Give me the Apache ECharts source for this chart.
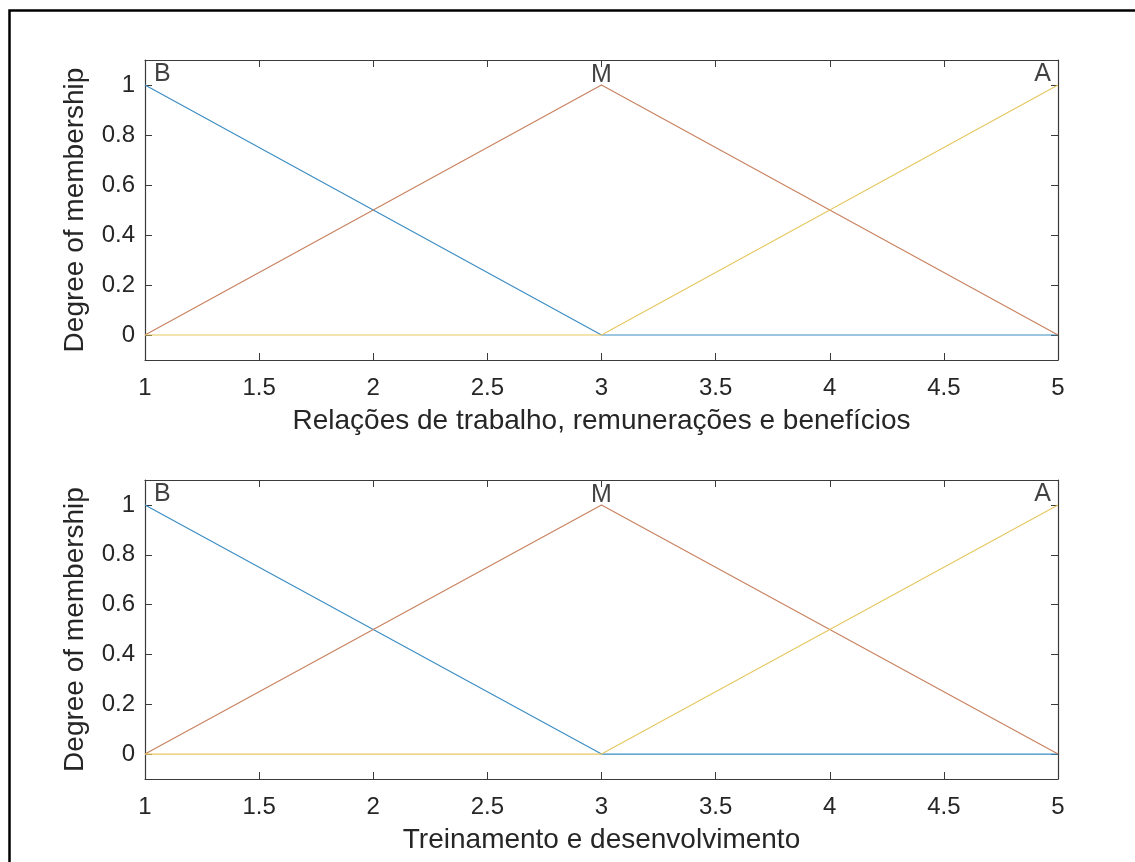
<!DOCTYPE html>
<html>
<head>
<meta charset="utf-8">
<script src="https://cdn.jsdelivr.net/npm/echarts@6/dist/echarts.min.js"></script>
<style>
html,body{margin:0;padding:0;background:#fff;}
#chart{width:1135px;height:862px;}
</style>
</head>
<body>
<div id="chart"></div>
<script>
// ---- data ----
const xPoints = [1, 3, 5];
const xTicks = ['1', '1.5', '2', '2.5', '3', '3.5', '4', '4.5', '5'];
const yTicks = [0, 0.2, 0.4, 0.6, 0.8, 1];
const mfNames = ['B', 'M', 'A'];
const mfPeaks = [1, 3, 5];

// Plot 1: Relações de trabalho, remunerações e benefícios
const relB = [1, 0, 0];
const relM = [0, 1, 0];
const relA = [0, 0, 1];
// Plot 2: Treinamento e desenvolvimento
const treB = [1, 0, 0];
const treM = [0, 1, 0];
const treA = [0, 0, 1];

const plotTitles = ['Relações de trabalho, remunerações e benefícios', 'Treinamento e desenvolvimento'];
const yTitle = 'Degree of membership';
const colors = ['#3a8cc2', '#c8805e', '#e6c860'];

const FONT = '"Liberation Sans", Arial, Helvetica, sans-serif';
const TXT = '#262626';
const AX = '#3a3a3a';

const grids = [
  {left: 145, top: 60, width: 913, height: 300},
  {left: 145, top: 480, width: 913, height: 299}
];

const xAxes = [], yAxes = [], series = [];
const plotData = [[relB, relM, relA], [treB, treM, treA]];

grids.forEach((g, i) => {
  // bottom x axis
  xAxes.push({
    type: 'value', gridIndex: i, min: 1, max: 5, interval: 0.5, position: 'bottom',
    name: plotTitles[i], nameLocation: 'middle', nameGap: 47,
    nameTextStyle: {fontFamily: FONT, fontSize: 28, color: TXT, verticalAlign: 'top'},
    axisLine: {show: true, onZero: false, lineStyle: {color: AX, width: 1.2}},
    axisTick: {show: true, inside: true, length: 7, lineStyle: {color: AX}},
    axisLabel: {show: true, margin: 16, fontFamily: FONT, fontSize: 24, color: TXT,
      formatter: (v) => { const idx = Math.round((v - 1) / 0.5); return xTicks[idx] !== undefined ? xTicks[idx] : ''; }},
    splitLine: {show: false}
  });
  // top mirror x axis
  xAxes.push({
    type: 'value', gridIndex: i, min: 1, max: 5, interval: 0.5, position: 'top',
    axisLine: {show: true, onZero: false, lineStyle: {color: AX, width: 1.2}},
    axisTick: {show: true, inside: true, length: 7, lineStyle: {color: AX}},
    axisLabel: {show: false}, splitLine: {show: false}
  });
  // left y axis
  yAxes.push({
    type: 'value', gridIndex: i, min: -0.1, max: 1.1, position: 'left',
    name: yTitle, nameLocation: 'middle', nameGap: 56,
    nameTextStyle: {fontFamily: FONT, fontSize: 28, color: TXT},
    axisLine: {show: true, onZero: false, lineStyle: {color: AX, width: 1.2}},
    axisTick: {show: true, inside: true, length: 7, customValues: yTicks, lineStyle: {color: AX}},
    axisLabel: {show: true, margin: 10, fontFamily: FONT, fontSize: 24, color: TXT, customValues: yTicks},
    splitLine: {show: false}
  });
  // right mirror y axis
  yAxes.push({
    type: 'value', gridIndex: i, min: -0.1, max: 1.1, position: 'right',
    axisLine: {show: true, onZero: false, lineStyle: {color: AX, width: 1.2}},
    axisTick: {show: true, inside: true, length: 7, customValues: yTicks, lineStyle: {color: AX}},
    axisLabel: {show: false, customValues: yTicks}, splitLine: {show: false}
  });

  plotData[i].forEach((arr, k) => {
    series.push({
      type: 'line', xAxisIndex: 2 * i, yAxisIndex: 2 * i,
      data: xPoints.map((x, j) => [x, arr[j]]),
      symbol: 'none', lineStyle: {color: colors[k], width: 1.1}, itemStyle: {color: colors[k]},
      silent: true, animation: false, clip: false
    });
  });

  // MF labels
  const aligns = ['left', 'center', 'right'];
  const offs = [[9, 2], [0, 3], [-7, 2]];
  series.push({
    type: 'scatter', xAxisIndex: 2 * i, yAxisIndex: 2 * i, symbolSize: 0, silent: true, animation: false, clip: false,
    data: mfNames.map((n, k) => ({
      value: [mfPeaks[k], 1], name: n,
      label: {show: true, position: 'top', distance: 0, align: aligns[k], offset: offs[k],
        formatter: n, fontFamily: FONT, fontSize: 25, color: '#111'}
    }))
  });
});

const chart = echarts.init(document.getElementById('chart'), null, {renderer: 'canvas'});
chart.setOption({
  backgroundColor: '#fff',
  animation: false,
  grid: grids,
  xAxis: xAxes,
  yAxis: yAxes,
  series: series,
  graphic: [{
    type: 'rect', left: 7, top: 8, silent: true,
    shape: {width: 1140, height: 880},
    style: {fill: null, stroke: '#000', lineWidth: 2.5}
  }]
});
</script>
</body>
</html>
